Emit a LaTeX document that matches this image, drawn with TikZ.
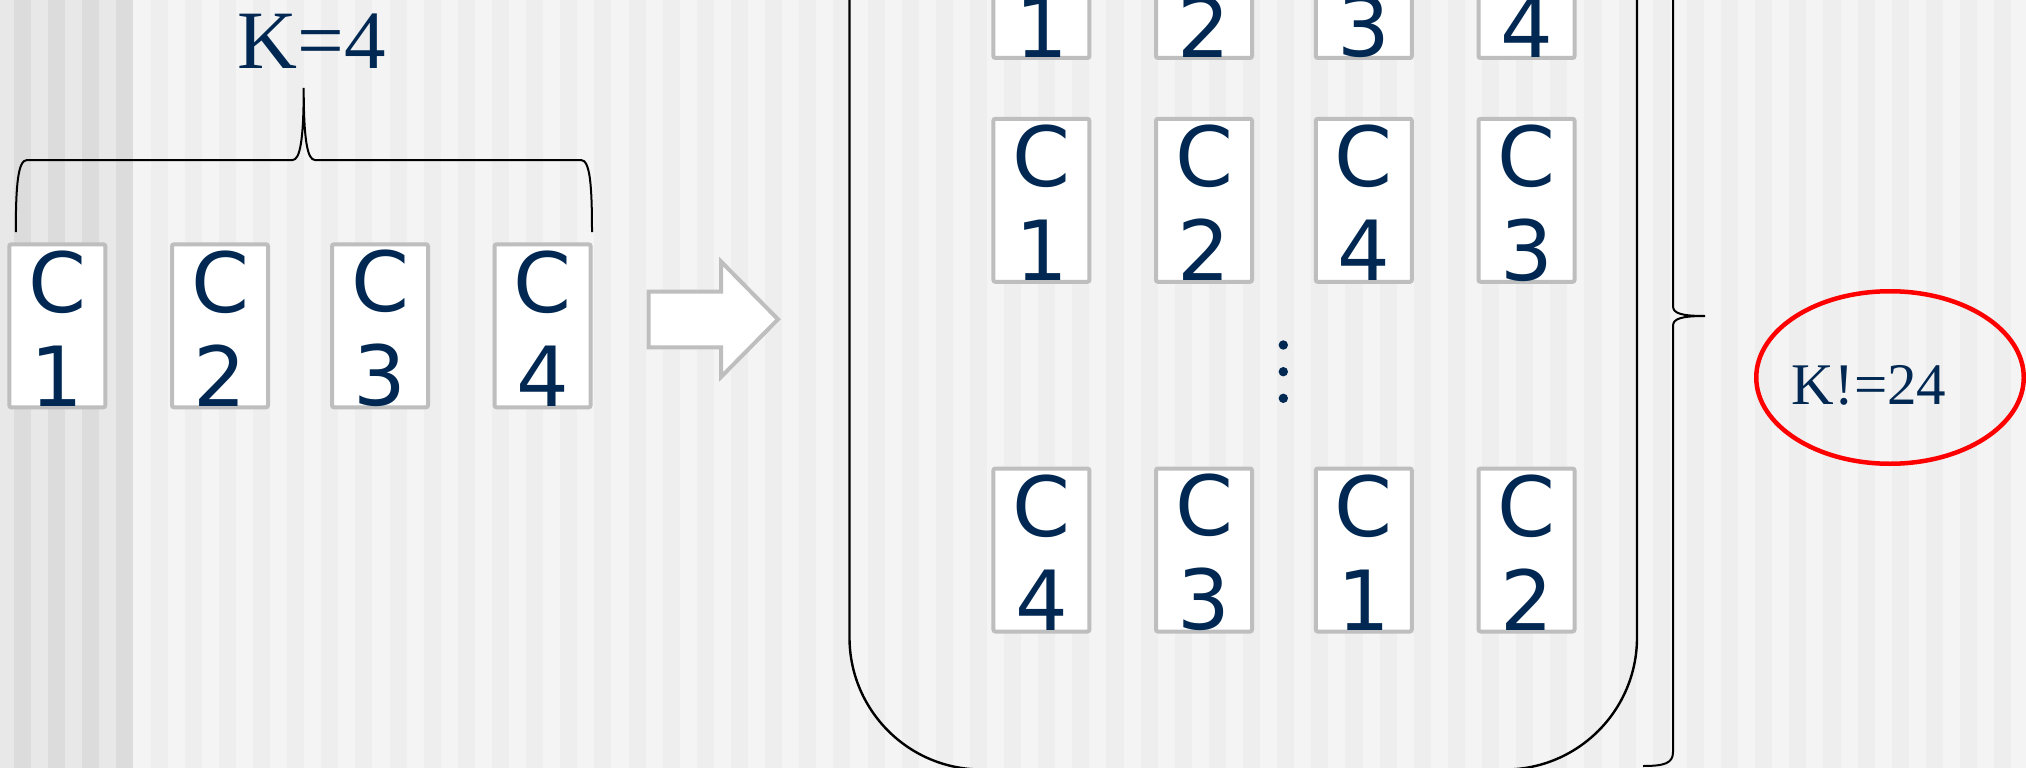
\documentclass[tikz,border=0pt]{standalone}
\usepackage{fontspec}
\newfontfamily\cardfont{DejaVu Sans}
\newfontfamily\serffont{Liberation Serif}
\usetikzlibrary{shapes.geometric}
\definecolor{navy}{HTML}{002852}
\definecolor{cardgray}{HTML}{BEBEBE}
\definecolor{bgA}{HTML}{E8E8E8}
\definecolor{bgB}{HTML}{DCDCDC}
\definecolor{bgC}{HTML}{F4F4F4}
\definecolor{bgD}{HTML}{EEEEEE}
\newcommand{\mycard}[4]{%
  \node[card] (#1) at (#2,#3) {};
  \node[cardtext] (#1t) at ([yshift=-2.7pt]#1.center) {C\\#4};}
\begin{document}
\begin{tikzpicture}[x=1pt,y=-1pt,
  card/.style={draw=cardgray, line width=4pt, fill=white, rounded corners=2pt,
    minimum width=96pt, minimum height=163pt, inner sep=0pt},
  cardtext/.style={text=navy, inner sep=0pt, align=center,
    font=\cardfont\fontsize{83}{94}\selectfont},
  bracepath/.style={draw=black, line width=2pt},
  boxline/.style={draw=black, line width=2.4pt},
  blockarrow/.style={draw=cardgray, fill=white, line width=4pt, miter limit=10},
  dotmark/.style={circle, fill=navy, inner sep=0pt, minimum size=9.4pt},
  bigserif/.style={text=navy, anchor=base, inner sep=0pt, font=\serffont\fontsize{83}{100}\selectfont},
  smallserif/.style={text=navy, anchor=base, inner sep=0pt, font=\serffont\fontsize{59}{70}\selectfont},
  ring/.style={ellipse, draw=red, line width=4.5pt, inner sep=0pt,
    minimum width=267.5pt, minimum height=172.5pt}
]
\useasboundingbox (0,0) rectangle (2026,768);
\clip (0,0) rectangle (2026,768);
% background stripes
\fill[bgC] (0,0) rectangle (2026,768);
\fill[bgA] (0,0) rectangle (132,768);
\foreach \k in {0,...,3} \fill[bgB] ({14+34.14*\k},0) rectangle ++(17.07,768);
\foreach \k in {4,...,59} \fill[bgD] ({14+34.14*\k},0) rectangle ++(17.07,768);

% left cards
\mycard{L1}{57.3}{325.8}{1}
\mycard{L2}{220}{325.8}{2}
\mycard{L3}{380}{325.8}{3}
\mycard{L4}{542.6}{325.8}{4}

% K=4 and its brace
\node[bigserif] (K4) at (311.5,68.3) {K=4};
\draw[bracepath] (15.8,232) .. controls (15.8,185) and (18,160) .. (27,160)
  -- (292.6,160) .. controls (300,160) and (303.7,140) .. (303.7,88)
  .. controls (303.7,140) and (307.4,160) .. (315,160)
  -- (581,160) .. controls (590,160) and (592,185) .. (592,232);

% block arrow
\draw[blockarrow] (648.5,291.5) -- (721,291.5) -- (721,261.5) -- (778,319.3)
  -- (721,377) -- (721,347.3) -- (648.5,347.3) -- cycle;

% container
\draw[boxline, rounded corners=132pt] (849.5,-60) -- (849.5,769.5) -- (1637,769.5) -- (1637,-60);

% grid cards
\mycard{A1}{1041.4}{-23.5}{1}
\mycard{A2}{1204}{-23.5}{2}
\mycard{A3}{1363.8}{-23.5}{3}
\mycard{A4}{1526.5}{-23.5}{4}
\mycard{B1}{1041.4}{200.3}{1}
\mycard{B2}{1204}{200.3}{2}
\mycard{B3}{1363.8}{200.3}{4}
\mycard{B4}{1526.5}{200.3}{3}
\mycard{D1}{1041.4}{550}{4}
\mycard{D2}{1204}{550}{3}
\mycard{D3}{1363.8}{550}{1}
\mycard{D4}{1526.5}{550}{2}

% vertical dots
\node[dotmark] (v1) at (1283.3,345) {};
\node[dotmark] (v2) at (1283.3,371.7) {};
\node[dotmark] (v3) at (1283.3,398.3) {};

% right brace
\draw[bracepath] (1643,-134) .. controls (1665,-134) and (1673,-131) .. (1673,-120)
  -- (1673,306) .. controls (1673,313) and (1680,316) .. (1705,316)
  .. controls (1680,316) and (1673,319) .. (1673,326)
  -- (1673,752) .. controls (1673,763) and (1665,766) .. (1643,766);

% ellipse and K!=24
\node[ring] (E) at (1890,377.5) {};
\node[smallserif] (KF) at (1869,404) {K!=24};
\end{tikzpicture}
\end{document}
